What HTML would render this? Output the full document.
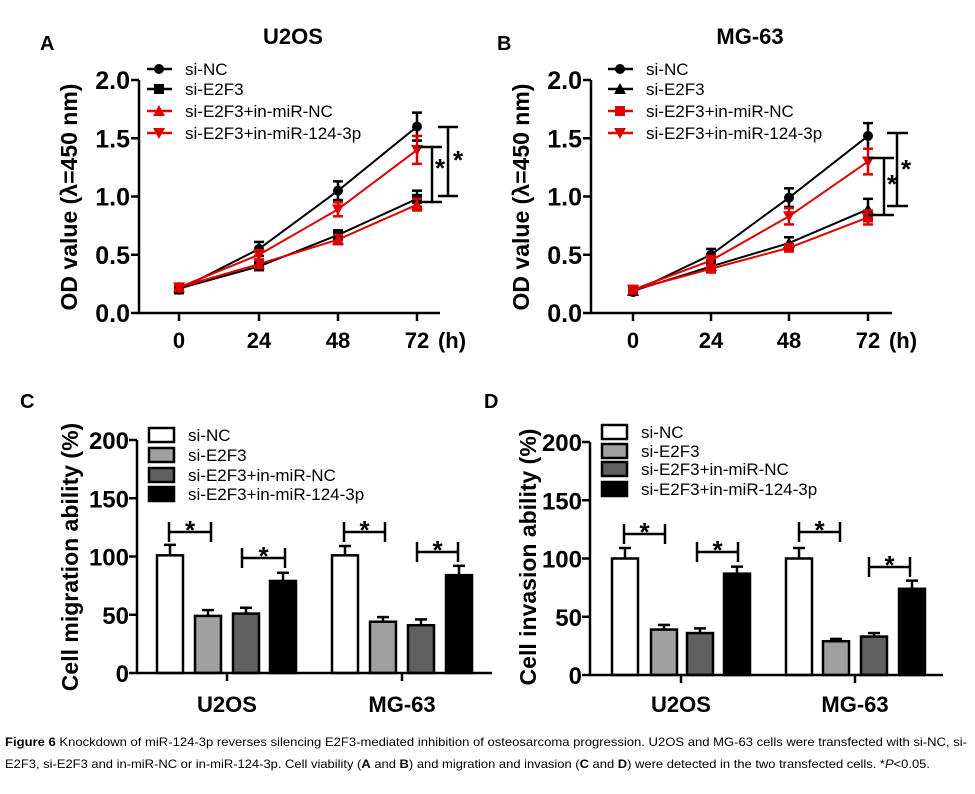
<!DOCTYPE html>
<html><head><meta charset="utf-8"><style>
body{margin:0;background:#fff;width:975px;height:794px;overflow:hidden}
svg{display:block}
text{font-family:"Liberation Sans",sans-serif}
</style></head><body>
<svg id="s" width="975" height="794" xmlns="http://www.w3.org/2000/svg"></svg>
<script>
const s=document.getElementById('s');let h='';
function L(x1,y1,x2,y2,c='#000',w=2.5){h+=`<line x1="${x1}" y1="${y1}" x2="${x2}" y2="${y2}" stroke="${c}" stroke-width="${w}"/>`}
function T(x,y,t,sz,a='start',b=true,extra=''){h+=`<text x="${x}" y="${y}" font-size="${sz}" text-anchor="${a}" ${b?'font-weight="bold"':''} ${extra}>${t}</text>`}
function mk(x,y,type,c){const r=5;
 if(type=='c')h+=`<circle cx="${x}" cy="${y}" r="${r}" fill="${c}"/>`;
 if(type=='s')h+=`<rect x="${x-r}" y="${y-r}" width="${2*r}" height="${2*r}" fill="${c}"/>`;
 if(type=='u')h+=`<polygon points="${x-6},${y+5} ${x+6},${y+5} ${x},${y-6}" fill="${c}"/>`;
 if(type=='d')h+=`<polygon points="${x-6},${y-5} ${x+6},${y-5} ${x},${y+6}" fill="${c}"/>`;}
function line(P){
 const {ax,xs,title,tx,series,br,leg}=P;const y0=313,k=116.5;const Y=v=>y0-v*k;
 L(ax,80,ax,y0);L(ax-1,y0,ax+301,y0);
 [0,0.5,1,1.5,2].forEach(v=>{L(ax-8,Y(v),ax,Y(v));T(ax-9,Y(v)+9,v.toFixed(1),25,'end')});
 xs.forEach((x,i)=>{L(x,y0,x,y0+8);T(x,348,[0,24,48,72][i],22,'middle')});
 T(xs[3]+35,348,'(h)',22,'middle');
 T(tx,44,title,22,'middle');
 h+=`<text transform="translate(${ax-62},197) rotate(-90)" font-size="23" font-weight="bold" text-anchor="middle">OD value (λ=450 nm)</text>`;
 series.forEach(([vals,err,t,c],j)=>{
  let p=vals.map((v,i)=>xs[i]+','+Y(v)).join(' ');
  h+=`<polyline points="${p}" fill="none" stroke="${c}" stroke-width="2"/>`;
  vals.forEach((v,i)=>{const e=err[i];L(xs[i],Y(v+e),xs[i],Y(v-e),c,2.5);L(xs[i]-5,Y(v+e),xs[i]+5,Y(v+e),c,2.5);L(xs[i]-5,Y(v-e),xs[i]+5,Y(v-e),c,2.5);mk(xs[i],Y(v),t,c)});
  const ly=[69,89,111,133][j];L(leg,ly,leg+25,ly,c,2.5);mk(leg+12,ly,t,c);
  T(leg+38,ly+6,['si-NC','si-E2F3','si-E2F3+in-miR-NC','si-E2F3+in-miR-124-3p'][j],17,'start',false);
 });
 br.forEach(([x,y1,y2,c1,c2,sx,sy])=>{L(x,y1,x,y2);L(c1,y1,c2,y1);L(c1,y2,c2,y2);T(sx,sy+12,'*',26,'middle')});
}
line({ax:139,xs:[179,259,338,417],title:'U2OS',tx:293,leg:147,
 series:[[[0.2,0.55,1.05,1.6],[0.03,0.06,0.08,0.12],'c','#000'],[[0.21,0.4,0.67,0.98],[0.02,0.03,0.04,0.07],'s','#000'],[[0.22,0.42,0.63,0.93],[0.02,0.03,0.04,0.05],'u','#d00'],[[0.22,0.5,0.89,1.4],[0.02,0.04,0.06,0.12],'d','#d00']],
 br:[[432,147,202,418,442,440,165],[448,127,196,438,458,458,157]]});
line({ax:591,xs:[633,711,789,868],title:'MG-63',tx:750,leg:608,
 series:[[[0.18,0.5,0.99,1.52],[0.02,0.05,0.08,0.11],'c','#000'],[[0.19,0.4,0.6,0.89],[0.02,0.03,0.05,0.09],'u','#000'],[[0.2,0.38,0.56,0.82],[0.02,0.02,0.03,0.06],'s','#d00'],[[0.2,0.45,0.83,1.3],[0.02,0.04,0.07,0.11],'d','#d00']],
 br:[[884,158,215,868,894,892,181],[897,133,206,887,908,906,166]]});
T(40,50,'A',20);T(497,50,'B',20);T(20,408,'C',20);T(484,408,'D',20);
function bar(P){const {ax,y0,end,bars,vals,err,ticks,brs,leg,ylab,lx}=P;const Y=v=>y0-v*233/200;
 const cols=['#fff','#a0a0a0','#606060','#000'];
 bars.forEach((x,i)=>{const v=vals[i],c=i%4;L(x+13,Y(v),x+13,Y(v+err[i]));L(x+7,Y(v+err[i]),x+19,Y(v+err[i]));
  h+=`<rect x="${x}" y="${Y(v)}" width="26" height="${y0-Y(v)}" fill="${cols[c]}" stroke="#000" stroke-width="2.5"/>`});
 L(ax,Y(200),ax,y0);L(ax-1,y0,end,y0);
 [0,50,100,150,200].forEach(v=>{L(ax-8,Y(v),ax,Y(v));T(ax-8,Y(v)+9,v,24,'end')});
 ticks.forEach((x,i)=>{L(x,y0,x,y0+8);T(x,712,['U2OS','MG-63'][i],22,'middle')});
 brs.forEach(([x1,x2,y])=>{L(x1,y,x2,y);L(x1,y-10,x1,y+10);L(x2,y-10,x2,y+10);T((x1+x2)/2,y+7,'*',26,'middle')});
 ['si-NC','si-E2F3','si-E2F3+in-miR-NC','si-E2F3+in-miR-124-3p'].forEach((t,i)=>{const y=leg[1][i];
  h+=`<rect x="${leg[0]}" y="${y-7}" width="25" height="14" fill="${cols[i]}" stroke="#000" stroke-width="2.5"/>`;T(leg[0]+39,y+6,t,17,'start',false)});
 h+=`<text transform="translate(${lx},557) rotate(-90)" font-size="23" font-weight="bold" text-anchor="middle">${ylab}</text>`;
}
bar({ax:137,y0:673,end:492,bars:[157,195,233,270,332,370,408,446],vals:[101,49,51,79,101,44,41,84],err:[9,5,5,7,8,4,5,8],ticks:[227,402],
 brs:[[169,211,532],[242,285,558],[344,385,532],[417,458,552]],leg:[149,[435,455,475,494]],ylab:'Cell migration ability (%)',lx:78});
bar({ax:590,y0:675,end:943,bars:[612,651,687,724,786,823,861,899],vals:[100,39,36,87,100,29,33,74],err:[9,4,4,6,9,2,3,7],ticks:[681,855],
 brs:[[624,665,534],[697,738,552],[799,840,532],[869,910,567]],leg:[602,[432,451,469,489]],ylab:'Cell invasion ability (%)',lx:536});
h+=`<text x="5" y="746" font-size="12" textLength="962" lengthAdjust="spacingAndGlyphs" font-family="Liberation Sans Narrow, Liberation Sans, sans-serif"><tspan font-weight="bold">Figure 6</tspan> Knockdown of miR-124-3p reverses silencing E2F3-mediated inhibition of osteosarcoma progression. U2OS and MG-63 cells were transfected with si-NC, si-</text>`;
h+=`<text x="5" y="768" font-size="12" textLength="925" lengthAdjust="spacingAndGlyphs" font-family="Liberation Sans Narrow, Liberation Sans, sans-serif">E2F3, si-E2F3 and in-miR-NC or in-miR-124-3p. Cell viability (<tspan font-weight="bold">A</tspan> and <tspan font-weight="bold">B</tspan>) and migration and invasion (<tspan font-weight="bold">C</tspan> and <tspan font-weight="bold">D</tspan>) were detected in the two transfected cells. *<tspan font-style="italic">P</tspan>&lt;0.05.</text>`;
s.innerHTML=h;
</script>
</body></html>
